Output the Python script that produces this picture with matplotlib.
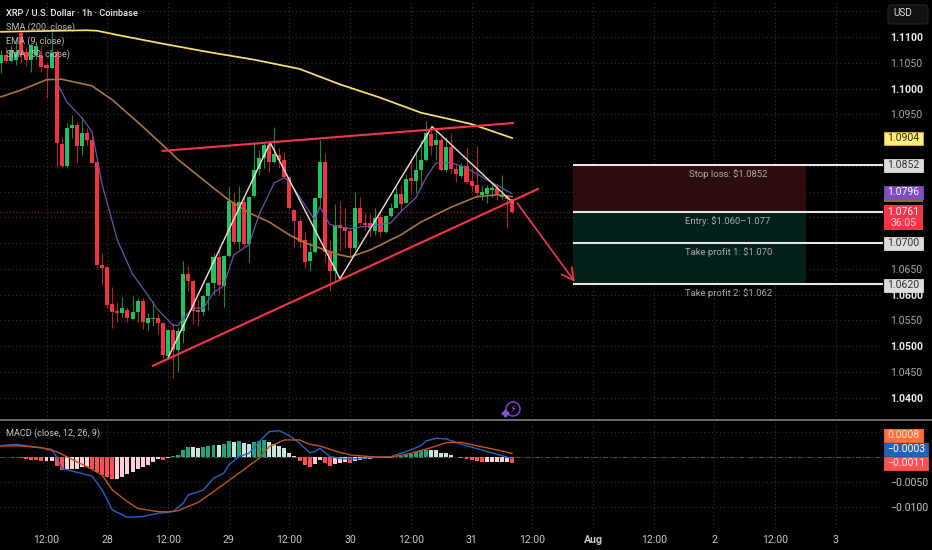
import matplotlib
matplotlib.use("Agg")
import matplotlib.pyplot as plt
from matplotlib.patches import Rectangle, FancyBboxPatch, Circle

plt.rcParams['font.family'] = ['Roboto', 'DejaVu Sans']

# candles, one per hour. hour 0 is the first "12:00" label
opens = [1.1050, 1.1065, 1.1054, 1.1056, 1.1108, 1.1071, 1.1056, 1.1065, 1.1065, 1.1046,
         1.1040, 1.1071, 1.0893, 1.0850, 1.0924, 1.0930, 1.0889, 1.0914, 1.0900, 1.0858,
         1.0658, 1.0654, 1.0582, 1.0569, 1.0565, 1.0571, 1.0553, 1.0567, 1.0588, 1.0545,
         1.0553, 1.0555, 1.0545, 1.0481, 1.0532, 1.0493, 1.0530, 1.0640, 1.0627, 1.0571,
         1.0567, 1.0598, 1.0623, 1.0673, 1.0617, 1.0675, 1.0778, 1.0702, 1.0780, 1.0699,
         1.0792, 1.0844, 1.0865, 1.0891, 1.0858, 1.0871, 1.0862, 1.0829, 1.0765, 1.0743,
         1.0706, 1.0666, 1.0683, 1.0788, 1.0858, 1.0683, 1.0646, 1.0736, 1.0732, 1.0724,
         1.0691, 1.0768, 1.0739, 1.0739, 1.0724, 1.0751, 1.0722, 1.0753, 1.0768, 1.0796,
         1.0778, 1.0827, 1.0821, 1.0842, 1.0862, 1.0912, 1.0891, 1.0900, 1.0842, 1.0887,
         1.0844, 1.0831, 1.0850, 1.0821, 1.0813, 1.0794, 1.0796, 1.0803, 1.0807, 1.0790,
         1.0792, 1.0786]
highs = [1.1075, 1.1081, 1.1085, 1.1094, 1.1114, 1.1079, 1.1089, 1.1091, 1.1085, 1.1050,
         1.1110, 1.1075, 1.0906, 1.0933, 1.0949, 1.0935, 1.0945, 1.0924, 1.0910, 1.0862,
         1.0681, 1.0656, 1.0615, 1.0586, 1.0596, 1.0576, 1.0598, 1.0594, 1.0594, 1.0565,
         1.0588, 1.0565, 1.0547, 1.0534, 1.0545, 1.0538, 1.0666, 1.0656, 1.0629, 1.0594,
         1.0600, 1.0625, 1.0681, 1.0691, 1.0677, 1.0809, 1.0798, 1.0811, 1.0790, 1.0792,
         1.0896, 1.0881, 1.0895, 1.0898, 1.0926, 1.0885, 1.0877, 1.0831, 1.0767, 1.0749,
         1.0722, 1.0702, 1.0790, 1.0900, 1.0875, 1.0706, 1.0776, 1.0782, 1.0768, 1.0730,
         1.0800, 1.0790, 1.0759, 1.0759, 1.0768, 1.0759, 1.0755, 1.0778, 1.0811, 1.0813,
         1.0834, 1.0862, 1.0875, 1.0900, 1.0937, 1.0926, 1.0916, 1.0906, 1.0906, 1.0912,
         1.0852, 1.0856, 1.0887, 1.0848, 1.0889, 1.0813, 1.0813, 1.0817, 1.0817, 1.0832,
         1.0794, 1.0786]
lows = [1.1030, 1.1050, 1.1052, 1.1046, 1.1052, 1.1044, 1.1032, 1.1056, 1.1032, 1.0982,
        1.1040, 1.0846, 1.0846, 1.0846, 1.0904, 1.0856, 1.0871, 1.0891, 1.0856, 1.0652,
        1.0619, 1.0574, 1.0536, 1.0547, 1.0557, 1.0547, 1.0553, 1.0547, 1.0534, 1.0532,
        1.0540, 1.0524, 1.0476, 1.0476, 1.0439, 1.0450, 1.0507, 1.0607, 1.0543, 1.0540,
        1.0559, 1.0571, 1.0600, 1.0600, 1.0576, 1.0673, 1.0699, 1.0689, 1.0695, 1.0664,
        1.0790, 1.0832, 1.0846, 1.0838, 1.0856, 1.0846, 1.0827, 1.0767, 1.0693, 1.0691,
        1.0652, 1.0646, 1.0681, 1.0768, 1.0664, 1.0607, 1.0625, 1.0687, 1.0691, 1.0673,
        1.0687, 1.0736, 1.0726, 1.0712, 1.0716, 1.0712, 1.0720, 1.0751, 1.0768, 1.0765,
        1.0778, 1.0798, 1.0798, 1.0807, 1.0860, 1.0871, 1.0862, 1.0840, 1.0838, 1.0834,
        1.0819, 1.0827, 1.0815, 1.0800, 1.0790, 1.0784, 1.0778, 1.0790, 1.0784, 1.0784,
        1.0730, 1.0759]
closes = [1.1065, 1.1054, 1.1075, 1.1071, 1.1065, 1.1056, 1.1085, 1.1083, 1.1042, 1.1040,
          1.1069, 1.0895, 1.0850, 1.0924, 1.0930, 1.0889, 1.0914, 1.0900, 1.0856, 1.0658,
          1.0652, 1.0580, 1.0567, 1.0565, 1.0574, 1.0555, 1.0567, 1.0588, 1.0547, 1.0555,
          1.0555, 1.0545, 1.0483, 1.0532, 1.0493, 1.0530, 1.0640, 1.0627, 1.0569, 1.0567,
          1.0598, 1.0623, 1.0673, 1.0619, 1.0675, 1.0782, 1.0702, 1.0780, 1.0699, 1.0790,
          1.0842, 1.0865, 1.0891, 1.0858, 1.0873, 1.0862, 1.0829, 1.0768, 1.0743, 1.0702,
          1.0664, 1.0683, 1.0788, 1.0858, 1.0683, 1.0646, 1.0736, 1.0730, 1.0724, 1.0691,
          1.0768, 1.0739, 1.0736, 1.0730, 1.0749, 1.0722, 1.0753, 1.0768, 1.0796, 1.0776,
          1.0825, 1.0821, 1.0842, 1.0862, 1.0914, 1.0889, 1.0900, 1.0842, 1.0887, 1.0844,
          1.0834, 1.0850, 1.0819, 1.0811, 1.0798, 1.0800, 1.0807, 1.0807, 1.0794, 1.0794,
          1.0786, 1.0761]
hours = list(range(-9, 93))

sma200_h = [-9, 8, 10, 15, 24, 33, 41, 50, 58, 66, 74, 84, 92]
sma200 = [1.1110, 1.1113, 1.1112, 1.1102, 1.1085, 1.1069, 1.1056, 1.1038, 1.1008, 1.0982, 1.0953, 1.0931, 1.0904]

sma50_h = [-9, -5, 0, 3, 9, 13, 18, 24, 26, 33, 36, 40, 44, 48, 51, 55, 58, 60, 64, 70, 74, 80, 85, 89, 92]
sma50 = [1.0984, 1.0997, 1.1017, 1.1018, 1.1005, 1.0978, 1.0935, 1.0881, 1.0862, 1.0807, 1.0784, 1.0759,
         1.0741, 1.0716, 1.0701, 1.0687, 1.0677, 1.0673, 1.0687, 1.0716, 1.0741, 1.0770, 1.0790, 1.0794, 1.0790]

ema9_h = [2, 4, 7, 9, 11, 12, 14, 17, 19, 22, 25, 26, 27, 29, 31, 33, 35, 37, 40, 42, 45, 47, 48, 50, 53,
          54, 56, 60, 64, 68, 70, 73, 75, 77, 80, 83, 87, 90, 92]
ema9 = [1.1013, 1.0974, 1.0943, 1.0916, 1.0813, 1.0778, 1.0706, 1.0640, 1.0613, 1.0571, 1.0541, 1.0540,
        1.0555, 1.0574, 1.0574, 1.0604, 1.0617, 1.0677, 1.0697, 1.0755, 1.0817, 1.0827, 1.0819, 1.0790, 1.0745,
        1.0770, 1.0736, 1.0728, 1.0734, 1.0739, 1.0761, 1.0788, 1.0827, 1.0856, 1.0856, 1.0846, 1.0823, 1.0807, 1.0796]

# drawings on the chart
upper_h = [23, 92.2]
upper_p = [1.0879, 1.0933]
lower_h = [21, 97.1]
lower_p = [1.0462, 1.0805]
zigzag_h = [24, 44.2, 58, 76.2, 92]
zigzag_p = [1.0477, 1.0895, 1.0631, 1.0926, 1.0780]
arrow_h = [93, 104.4]
arrow_p = [1.0778, 1.0625]

stop_loss = 1.0852
entry = 1.0761
tp1 = 1.0700
tp2 = 1.0620
box_left = 104
box_right = 150.1
box_text_h = 134.7

# macd
macd_h = [-9, -6, -3, 1, 2, 3, 6, 9, 11, 13, 16, 19, 22, 25, 27, 28, 31, 33, 35, 36, 38, 40, 42, 44, 46, 48,
          50, 52, 53, 54, 56, 58, 60, 64, 68, 71, 74, 75, 77, 79, 82, 86, 90, 92]
macd = [.00233, .0026, .00213, .0016, .00013, -.0022, -.003, -.00373, -.00653, -.01053, -.012, -.01187,
        -.0112, -.01087, -.0092, -.00753, -.00653, -.0042, -.0032, -.00153, .00013, .0008, .00313, .00513,
        .00533, .00433, .0028, .00093, .00113, .0018, .00013, -.0002, -.0004, -.00007, .00013, .00113,
        .00233, .00327, .0038, .00367, .0026, .00147, .00033, -.0003]
signal_h = [-9, -5, -1, 2, 5, 8, 11, 13, 16, 18, 22, 24, 26, 30, 33, 38, 42, 44, 47, 50, 52, 54, 57, 60,
            64, 68, 72, 76, 79, 82, 85, 89, 92]
signal = [.00227, .00227, .00193, .00113, -.0004, -.00187, -.00353, -.00653, -.00887, -.0102, -.01087,
          -.01093, -.01067, -.009, -.00687, -.0032, -.0002, .00213, .00347, .00347, .0026, .00227, .00127,
          .00047, .00013, 0, .0008, .00193, .00293, .003, .00233, .00147, .0008]
hist = [.00003, .00003, .00007, .00007, -.00013, -.00033, -.00047, -.00053, -.00067, -.00067,
        -.00067, -.00167, -.00247, -.00233, -.00233, -.00233, -.00187, -.00187, -.00233, -.003,
        -.00347, -.004, -.00427, -.00427, -.004, -.00333, -.003, -.00233, -.00187, -.00147,
        -.001, -.0004, -.00053, -.00007, .0002, .00053, .00147, .002, .002, .00193,
        .002, .0022, .00247, .00247, .00267, .00333, .00313, .00333, .0028, .00267,
        .00313, .00333, .00353, .003, .00267, .0022, .0018, .0008, .0002, -.0008,
        -.00147, -.00187, -.00133, -.00053, -.00113, -.00167, -.00133, -.0012, -.001, -.00113,
        -.00067, -.00047, -.00033, -.00033, -.0002, -.00013, -.00007, .00007, .00007, .00033,
        .00053, .00067, .001, .0012, .00147, .00147, .00147, .00093, .0008, .0004,
        .00013, -.0002, -.00033, -.00053, -.0008, -.001, -.001, -.001, -.001, -.001,
        -.001, -.0011]

time_ticks = list(range(0, 157, 12))
time_labels = ['12:00', '28', '12:00', '29', '12:00', '30', '12:00', '31', '12:00', 'Aug', '12:00', '2', '12:00', '3']
price_ticks = [1.04, 1.045, 1.05, 1.055, 1.06, 1.065, 1.07, 1.075, 1.08, 1.085, 1.09, 1.095, 1.10, 1.105, 1.11, 1.115]
# these sit under the coloured price tags in the reference
hidden_ticks = [1.07, 1.075, 1.08, 1.085, 1.09, 1.115]
macd_ticks = [-0.01, -0.005, 0, 0.005]

GREEN = '#1fc45f'
RED = '#f5323f'
GRID = '#343434'
xlim = (-9.19, 165.3)

fig = plt.figure(figsize=(9.32, 5.5), dpi=100, facecolor='black')
ax = fig.add_axes([0, 130 / 550, 883 / 932, 420 / 550], facecolor='black')
ax2 = fig.add_axes([0, 22 / 550, 883 / 932, 107 / 550], facecolor='black')
# pixel coordinates for the chart furniture (price tags, button, legend)
ui = fig.add_axes([0, 0, 1, 1], facecolor='none')
ui.set_xlim(0, 932)
ui.set_ylim(550, 0)
ui.axis('off')

for a in (ax, ax2):
    a.set_xlim(*xlim)
    a.set_xticks(time_ticks)
    a.grid(True, color=GRID, linestyle=(0, (1, 2.5)), linewidth=0.8, zorder=0)
    a.set_axisbelow(True)
    a.yaxis.tick_right()
    for s in a.spines.values():
        s.set_visible(False)

# main pane
ax.set_ylim(1.03569, 1.11717)
ax.set_yticks(price_ticks)
ax.set_yticklabels(['' if p in hidden_ticks else f'{p:.4f}' for p in price_ticks])
ax.tick_params(axis='y', length=0, pad=5, labelsize=7.6, labelcolor='#a8a8a8')
ax.tick_params(axis='x', length=0, labelbottom=False)
for p, lab in zip(price_ticks, ax.get_yticklabels()):
    if round(p * 1000) % 10 == 0:
        lab.set_color('#e8e8e8')
        lab.set_fontweight('bold')

colors = [GREEN if c >= o else RED for o, c in zip(opens, closes)]
ax.vlines(hours, lows, highs, colors=colors, linewidth=0.8, alpha=0.7, zorder=2)
bottoms = [min(o, c) for o, c in zip(opens, closes)]
heights = [abs(c - o) for o, c in zip(opens, closes)]
ax.bar(hours, heights, bottom=bottoms, width=0.8, color=colors, linewidth=0, zorder=3)

ax.plot(sma200_h, sma200, color='#f7e36c', linewidth=1.25, zorder=4)
ax.plot(sma50_h, sma50, color='#a9773a', linewidth=1.2, zorder=4)
ax.plot(ema9_h, ema9, color='#6a55a8', linewidth=0.9, zorder=4)

ax.axhline(entry, color='#7a1d25', linestyle=(0, (1, 1.5)), linewidth=0.9, zorder=1)

# position boxes
ax.add_patch(Rectangle((box_left, entry), box_right - box_left, stop_loss - entry, facecolor='#2d0c0e', linewidth=0, zorder=1))
ax.add_patch(Rectangle((box_left, tp2), box_right - box_left, entry - tp2, facecolor='#04201b', linewidth=0, zorder=1))
for level in (stop_loss, entry, tp1, tp2):
    ax.hlines(level, box_left, xlim[1], color='#e6e6e6', linewidth=1.5, zorder=5)
box_texts = [(1.0835, 'Stop loss: $1.0852'), (1.0743, 'Entry: $1.060\u20131.077'),
             (1.0683, 'Take profit 1: $1.070'), (1.0604, 'Take profit 2: $1.062')]
for p, t in box_texts:
    ax.text(box_text_h, p, t, color='#ababab', fontsize=6.8, ha='center', va='center', zorder=6)

# drawings
ax.plot(upper_h, upper_p, color='#f5364a', linewidth=1.5, zorder=6)
ax.plot(lower_h, lower_p, color='#f5364a', linewidth=1.5, zorder=6)
ax.plot(zigzag_h, zigzag_p, color='#f2e2d8', linewidth=1.0, zorder=5)
ax.annotate('', xy=(arrow_h[1], arrow_p[1]), xytext=(arrow_h[0], arrow_p[0]), zorder=6,
            arrowprops=dict(arrowstyle='->,head_length=0.85,head_width=0.45', color='#f5364a', linewidth=1.2, shrinkA=0, shrinkB=0))

# macd pane
ax2.set_ylim(-0.01414, 0.00726)
ax2.set_yticks(macd_ticks)
ax2.set_yticklabels(['\u22120.0100', '\u22120.0050', '', ''])
ax2.tick_params(axis='y', length=0, pad=5, labelsize=7.6, labelcolor='#c4c4c4')
ax2.set_xticklabels(time_labels)
ax2.tick_params(axis='x', length=0, pad=5, labelsize=7.6, labelcolor='#c8c8c8')
ax2.get_xticklabels()[9].set_fontweight('bold')
ax2.axhline(0, color='#555555', linestyle=(0, (5, 2, 1, 2)), linewidth=0.7, zorder=1)

hist_colors = []
prev = 0
for v in hist:
    if v >= 0:
        hist_colors.append('#20a57f' if v > prev else '#c9e4df')
    else:
        hist_colors.append('#ff4f55' if v < prev else '#fbd0d4')
    prev = v
ax2.bar(hours, hist, width=0.78, color=hist_colors, linewidth=0, zorder=2)
ax2.plot(macd_h, macd, color='#2463c8', linewidth=1.0, zorder=3)
ax2.plot(signal_h, signal, color='#c4521c', linewidth=1.0, zorder=3)

# chart furniture in pixels
ui.add_patch(Rectangle((0, 419), 932, 2, facecolor='#6a6a6a', linewidth=0))
ui.text(6, 13, 'XRP / U.S. Dollar \u00b7 1h \u00b7 Coinbase', color='#f0f0f0', fontsize=6.7, fontweight='medium', va='center')
ui.text(6, 27, 'SMA (200, close)', color='#bdbdbd', fontsize=6.6, va='center')
ui.text(6, 41, 'EMA (9, close)', color='#bdbdbd', fontsize=6.6, va='center')
ui.text(6, 54, 'SMA (50, close)', color='#bdbdbd', fontsize=6.6, va='center')
ui.text(6, 433, 'MACD (close, 12, 26, 9)', color='#c8c8c8', fontsize=6.6, va='center')

ui.add_patch(FancyBboxPatch((888, 5), 40, 19, boxstyle='round,pad=0,rounding_size=3', facecolor='#111111', edgecolor='#262626', linewidth=0.8))
ui.text(893, 13.5, 'USD', color='#d8d8d8', fontsize=7.2, va='center')


def tag(y, text, bg, fg, right=923, height=13, edge=None):
    ui.add_patch(Rectangle((884, y - height / 2), right - 884, height, facecolor=bg, edgecolor=edge or bg, linewidth=0.6, zorder=8))
    ui.text((884 + right) / 2, y, text, color=fg, fontsize=7.6, ha='center', va='center', zorder=9)


tag(138, '1.0904', '#fff176', '#2a2a2a', edge='#e8a33d')
tag(165, '1.0852', '#dcdcdc', '#333333')
ui.add_patch(Rectangle((884, 198), 39, 4, facecolor='#8a6a3c', linewidth=0, zorder=8))
tag(192, '1.0796', '#7c4fc4', '#ffffff')
ui.add_patch(Rectangle((884, 205), 39, 25, facecolor='#f2364a', linewidth=0, zorder=8))
ui.text(903.5, 212, '1.0761', color='#ffffff', fontsize=7.6, ha='center', va='center', zorder=9)
ui.text(903.5, 223, '36:05', color='#ffd0d0', fontsize=7.6, ha='center', va='center', zorder=9)
tag(243.5, '1.0700', '#dcdcdc', '#333333')
tag(285, '1.0620', '#dcdcdc', '#333333')
tag(435, '0.0008', '#ff6d3a', '#ffe0d0')
tag(449.5, '\u22120.0003', '#2462b8', '#ffffff', right=928)
tag(463, '\u22120.0011', '#ff5252', '#ffe6e6', right=928)

# small flash icon above the macd pane
ui.add_patch(Circle((513, 409), 7, facecolor='none', edgecolor='#7a45c8', linewidth=1.1, zorder=7))
ui.text(512.5, 409, '\u26a1', color='#9a6ae8', fontsize=7, ha='center', va='center', family=['DejaVu Sans'], zorder=8)
ui.plot([505], [412.5], marker='P', color='#8a55d8', markersize=4, linestyle='none', zorder=8)

fig.savefig('out.png', dpi=100, facecolor='black')
